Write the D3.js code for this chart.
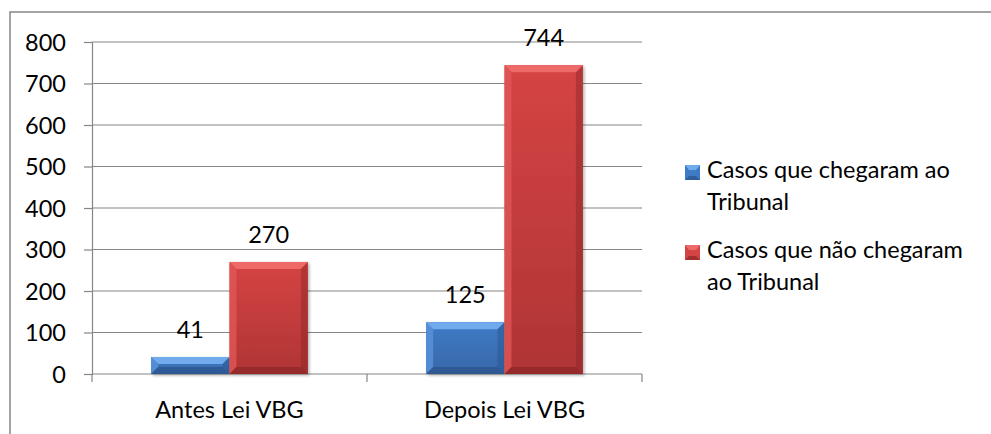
<!DOCTYPE html>
<html><head><meta charset="utf-8">
<script src="https://cdn.jsdelivr.net/npm/d3@7"></script>
<style>body{margin:0;background:#fff;}svg text{font-family:Lato,"Open Sans",sans-serif;fill:#000;}</style>
</head><body><svg id="c" width="991" height="434"></svg>
<script>
const categories = ["Antes Lei VBG", "Depois Lei VBG"];
const seriesNames = ["Casos que chegaram ao Tribunal", "Casos que não chegaram ao Tribunal"];
const chegaram = [41, 125];
const naoChegaram = [270, 744];
const yTicks = [0, 100, 200, 300, 400, 500, 600, 700, 800];
const legendLines = [["Casos que chegaram ao", "Tribunal"], ["Casos que não chegaram", "ao Tribunal"]];

const svg = d3.select("#c");
const FS = "23.5px";
const x0 = d3.scaleBand().domain(categories).range([92, 642]).paddingInner(0.43).paddingOuter(0.215);
const x1 = d3.scaleBand().domain([0, 1]).range([0, x0.bandwidth()]);
const y = d3.scaleLinear().domain([0, 800]).range([374, 42]);

// outer border
svg.append("rect").attr("x", 10).attr("y", 12).attr("width", 1000).attr("height", 440)
  .attr("fill", "none").attr("stroke", "#868686").attr("stroke-width", 1.5);

// y axis + gridlines
const yAxis = d3.axisLeft(y).tickValues(yTicks).tickSize(8).tickPadding(18).tickFormat(d3.format("d"));
const ga = svg.append("g").attr("transform", "translate(92,0)").call(yAxis);
ga.select(".domain").attr("stroke", "#868686").attr("stroke-width", 1.2);
ga.selectAll(".tick line").attr("stroke", "#868686").attr("stroke-width", 1.2);
ga.selectAll(".tick text").style("font-size", FS).attr("dy", "0.35em");
svg.append("g").selectAll("line").data(yTicks).join("line")
  .attr("x1", 92).attr("x2", 642).attr("y1", d => y(d)).attr("y2", d => y(d))
  .attr("stroke", "#868686").attr("stroke-width", 1.2);

// x axis
const xb = d3.scaleLinear().domain([0, categories.length]).range([92, 642]);
svg.append("g").selectAll("line").data(d3.range(categories.length + 1)).join("line")
  .attr("x1", d => xb(d)).attr("x2", d => xb(d)).attr("y1", 374).attr("y2", 382)
  .attr("stroke", "#868686").attr("stroke-width", 1.2);
svg.append("g").selectAll("text").data(categories).join("text")
  .attr("x", d => x0(d) + x0.bandwidth() / 2).attr("y", 410).attr("dy", "0.35em")
  .attr("text-anchor", "middle").style("font-size", FS).text(d => d);

// gradients
const defs = svg.append("defs");
const pal = [
  {main: "#3f7ac6", bottom: "#3768a8", light: "#72aaee", left: "#5a93dc", dark: "#2b528a"},
  {main: "#d54444", bottom: "#b03434", light: "#ee6a69", left: "#e05656", dark: "#8c2626"}
];
pal.forEach((p, i) => {
  const g = defs.append("linearGradient").attr("id", "g" + i).attr("x1", 0).attr("y1", 0).attr("x2", 0).attr("y2", 1);
  g.append("stop").attr("offset", "0%").attr("stop-color", p.main);
  g.append("stop").attr("offset", "100%").attr("stop-color", p.bottom);
});
const f = defs.append("filter").attr("id", "sh").attr("x", "-10%").attr("y", "-10%").attr("width", "130%").attr("height", "130%");
f.append("feDropShadow").attr("dx", 1.5).attr("dy", 1.5).attr("stdDeviation", 1.5).attr("flood-color", "#000").attr("flood-opacity", 0.3);

const data = [];
categories.forEach((c, ci) => {
  [chegaram[ci], naoChegaram[ci]].forEach((v, si) => data.push({c, si, v}));
});

const bars = svg.append("g").selectAll("g").data(data).join("g");
bars.each(function(d) {
  const g = d3.select(this);
  const bx = x0(d.c) + x1(d.si), bw = x1.bandwidth();
  const by = y(d.v), bh = y(0) - y(d.v);
  const p = pal[d.si];
  const b = Math.min(7, bh / 2);
  g.append("rect").attr("x", bx).attr("y", by).attr("width", bw).attr("height", bh)
    .attr("fill", `url(#g${d.si})`).attr("filter", "url(#sh)");
  g.append("polygon").attr("points", [[bx, by], [bx + bw, by], [bx + bw - b, by + b], [bx + b, by + b]].join(" ")).attr("fill", p.light);
  g.append("polygon").attr("points", [[bx, by], [bx + b, by + b], [bx + b, by + bh - b], [bx, by + bh]].join(" ")).attr("fill", p.left).attr("opacity", 0.8);
  g.append("polygon").attr("points", [[bx + bw, by], [bx + bw - b, by + b], [bx + bw - b, by + bh - b], [bx + bw, by + bh]].join(" ")).attr("fill", p.dark).attr("opacity", 0.45);
  g.append("polygon").attr("points", [[bx, by + bh], [bx + b, by + bh - b], [bx + bw - b, by + bh - b], [bx + bw, by + bh]].join(" ")).attr("fill", p.dark).attr("opacity", 0.7);
  g.append("text").attr("x", bx + bw / 2).attr("y", by - 27).attr("dy", "0.35em").attr("text-anchor", "middle")
    .style("font-size", FS).text(d.v);
});

// legend
const lg = svg.append("g");
legendLines.forEach((lines, i) => {
  const ly = 171 + i * 80;
  const p = pal[i];
  lg.append("rect").attr("x", 685).attr("y", ly - 6).attr("width", 15).attr("height", 15).attr("fill", p.main);
  lg.append("polygon").attr("points", [[685, ly - 6], [700, ly - 6], [696, ly - 1], [689, ly - 1]].join(" ")).attr("fill", p.light);
  lg.append("polygon").attr("points", [[685, ly + 9], [689, ly + 5], [696, ly + 5], [700, ly + 9]].join(" ")).attr("fill", p.dark).attr("opacity", 0.7);
  lines.forEach((t, j) => {
    lg.append("text").attr("x", 707).attr("y", ly - 1 + j * 32).attr("dy", "0.35em").style("font-size", FS).text(t);
  });
});
</script></body></html>
